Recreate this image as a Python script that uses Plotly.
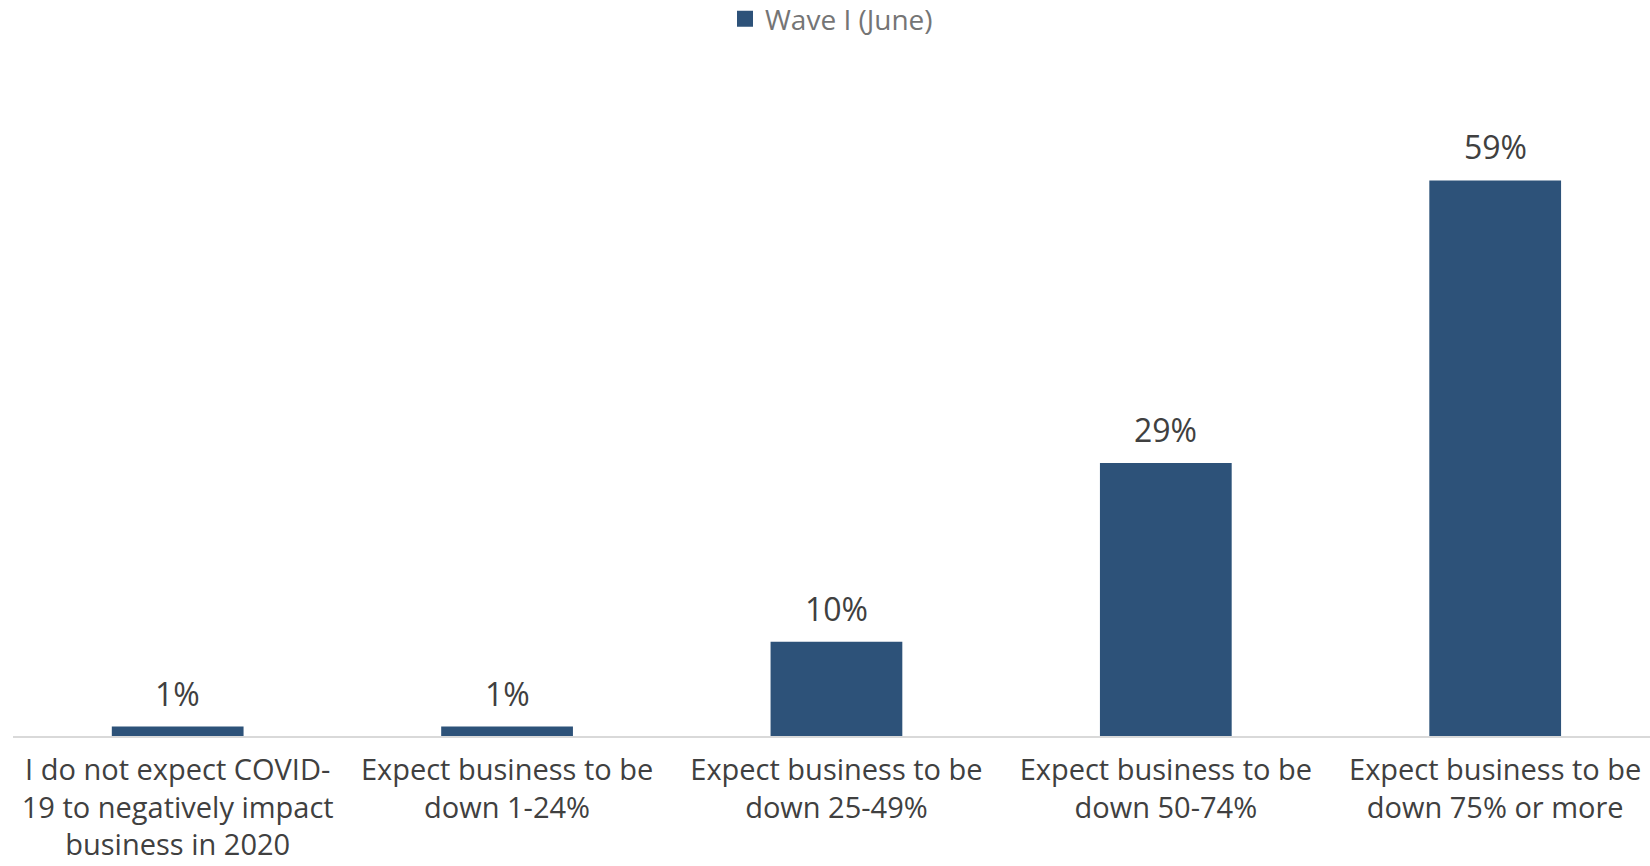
import plotly.graph_objects as go

categories = [
    "I do not expect COVID-<br>19 to negatively impact<br>business in 2020",
    "Expect business to be<br>down 1-24%",
    "Expect business to be<br>down 25-49%",
    "Expect business to be<br>down 50-74%",
    "Expect business to be<br>down 75% or more",
]
values = [1, 1, 10, 29, 59]
value_labels = ["1%", "1%", "10%", "29%", "59%"]
series_name = "Wave I (June)"

BAR = "#2D5279"
FONT = "Open Sans"

fig = go.Figure()
fig.add_trace(go.Bar(
    x=list(range(len(categories))),
    y=values,
    name=series_name,
    marker=dict(color=BAR, line=dict(width=0)),
    width=0.4,
    showlegend=False,
))
# legend entry with a larger square swatch
fig.add_trace(go.Scatter(
    x=[None], y=[None], mode="markers", name=series_name,
    marker=dict(symbol="square", size=16, color=BAR),
    showlegend=True, hoverinfo="skip",
))

for i, (v, t) in enumerate(zip(values, value_labels)):
    fig.add_annotation(
        x=i, y=v, text=t, showarrow=False, yanchor="bottom",
        yshift=10, font=dict(family=FONT, size=32, color="#404040"),
    )

fig.update_layout(
    width=1650, height=866,
    margin=dict(l=13, r=0, t=124, b=130),
    paper_bgcolor="white", plot_bgcolor="white",
    font=dict(family=FONT, color="#404040"),
    bargap=0.6,
    legend=dict(
        orientation="h", x=0.5, xanchor="center", y=0.978, yref="container",
        yanchor="middle", font=dict(family=FONT, size=28, color="#757575"),
        itemwidth=30,
    ),
    xaxis=dict(
        tickmode="array", tickvals=list(range(len(categories))),
        ticktext=categories, range=[-0.5, 4.47],
        showline=True, linecolor="#D9D9D9", linewidth=2,
        showgrid=False, zeroline=False, ticks="",
        tickfont=dict(family=FONT, size=29, color="#404040"),
        ticklabelstandoff=7, automargin=False,
    ),
    yaxis=dict(range=[0, 65], visible=False, showgrid=False, zeroline=False,
               automargin=False),
)

fig.write_html("out.html")
